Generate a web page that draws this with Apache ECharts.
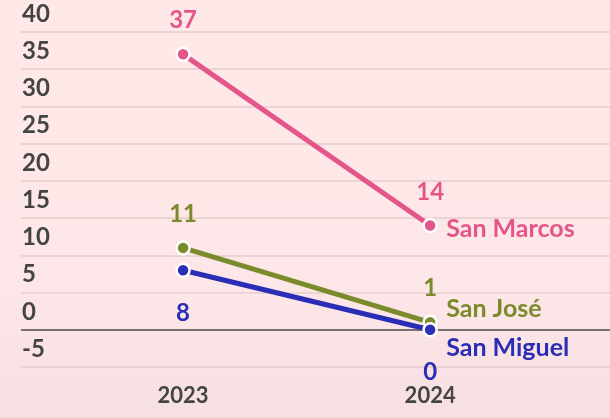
<!DOCTYPE html>
<html>
<head>
<meta charset="utf-8">
<script src="https://cdn.jsdelivr.net/npm/echarts@6/dist/echarts.min.js"></script>
<style>
html,body{margin:0;padding:0;}
#c{width:610px;height:418px;}
</style>
</head>
<body>
<div id="c"></div>
<script>
const categories = ['2023', '2024'];
const yTicks = [-5, 0, 5, 10, 15, 20, 25, 30, 35, 40];
const seriesNames = ['San Marcos', 'San José', 'San Miguel'];
const sanMarcos = [37, 14];
const sanJose = [11, 1];
const sanMiguel = [8, 0];

const colors = ['#e4558a', '#7b8b2b', '#2a2db5'];
const labelPos = ['top', 'top', 'bottom'];
const labelDist = [14, 14, 23];
const endOffsets = [[0, 3], [0, -13], [0, 18]];
const values = [sanMarcos, sanJose, sanMiguel];
const FONT = 'Lato';

const chart = echarts.init(document.getElementById('c'), null, {renderer: 'canvas'});

const series = values.map((vals, i) => ({
  name: seriesNames[i],
  type: 'line',
  data: vals.map((v, j) => [Number(categories[j]), v]),
  symbol: 'circle',
  symbolSize: 13,
  lineStyle: {color: colors[i], width: 5},
  itemStyle: {color: colors[i], borderColor: '#ffffff', borderWidth: 2.5},
  z: 3 + i,
  label: {
    show: true,
    position: labelPos[i],
    distance: labelDist[i],
    color: colors[i],
    fontFamily: FONT,
    fontWeight: 'bold',
    fontSize: 24,
    formatter: p => String(p.value[1])
  },
  endLabel: {
    show: true,
    formatter: '{a}',
    color: colors[i],
    fontFamily: FONT,
    fontWeight: 'bold',
    fontSize: 25,
    distance: 16,
    offset: endOffsets[i]
  },
  emphasis: {disabled: true},
  markLine: i === 0 ? {
    silent: true,
    symbol: 'none',
    label: {show: false},
    lineStyle: {color: '#787070', width: 2, type: 'solid'},
    data: [{yAxis: 0}],
    z: 2
  } : undefined
}));

chart.setOption({
  animation: false,
  backgroundColor: {
    type: 'linear', x: 0, y: 0, x2: 0, y2: 1,
    colorStops: [
      {offset: 0, color: '#fee9e8'},
      {offset: 0.7, color: '#fde6e7'},
      {offset: 1, color: '#f6dfe2'}
    ]
  },
  grid: {left: 21, right: 0, top: 32, bottom: 51},
  xAxis: {
    type: 'value',
    min: 2022.344,
    max: 2024.728,
    axisLine: {show: false},
    axisTick: {show: false},
    splitLine: {show: false},
    axisLabel: {
      customValues: categories.map(Number),
      formatter: v => String(v),
      color: '#444444',
      fontFamily: FONT,
      fontWeight: 'bold',
      fontSize: 22,
      margin: 18
    }
  },
  yAxis: {
    type: 'value',
    min: yTicks[0],
    max: yTicks[yTicks.length - 1],
    interval: 5,
    axisLine: {show: false},
    axisTick: {show: false},
    splitLine: {lineStyle: {color: '#ecd3d4', width: 2}},
    axisLabel: {
      inside: true,
      margin: 1,
      verticalAlign: 'bottom',
      padding: [0, 0, 6, 0],
      color: '#444444',
      fontFamily: FONT,
      fontWeight: 'bold',
      fontSize: 24
    }
  },
  series: series
});
</script>
</body>
</html>
